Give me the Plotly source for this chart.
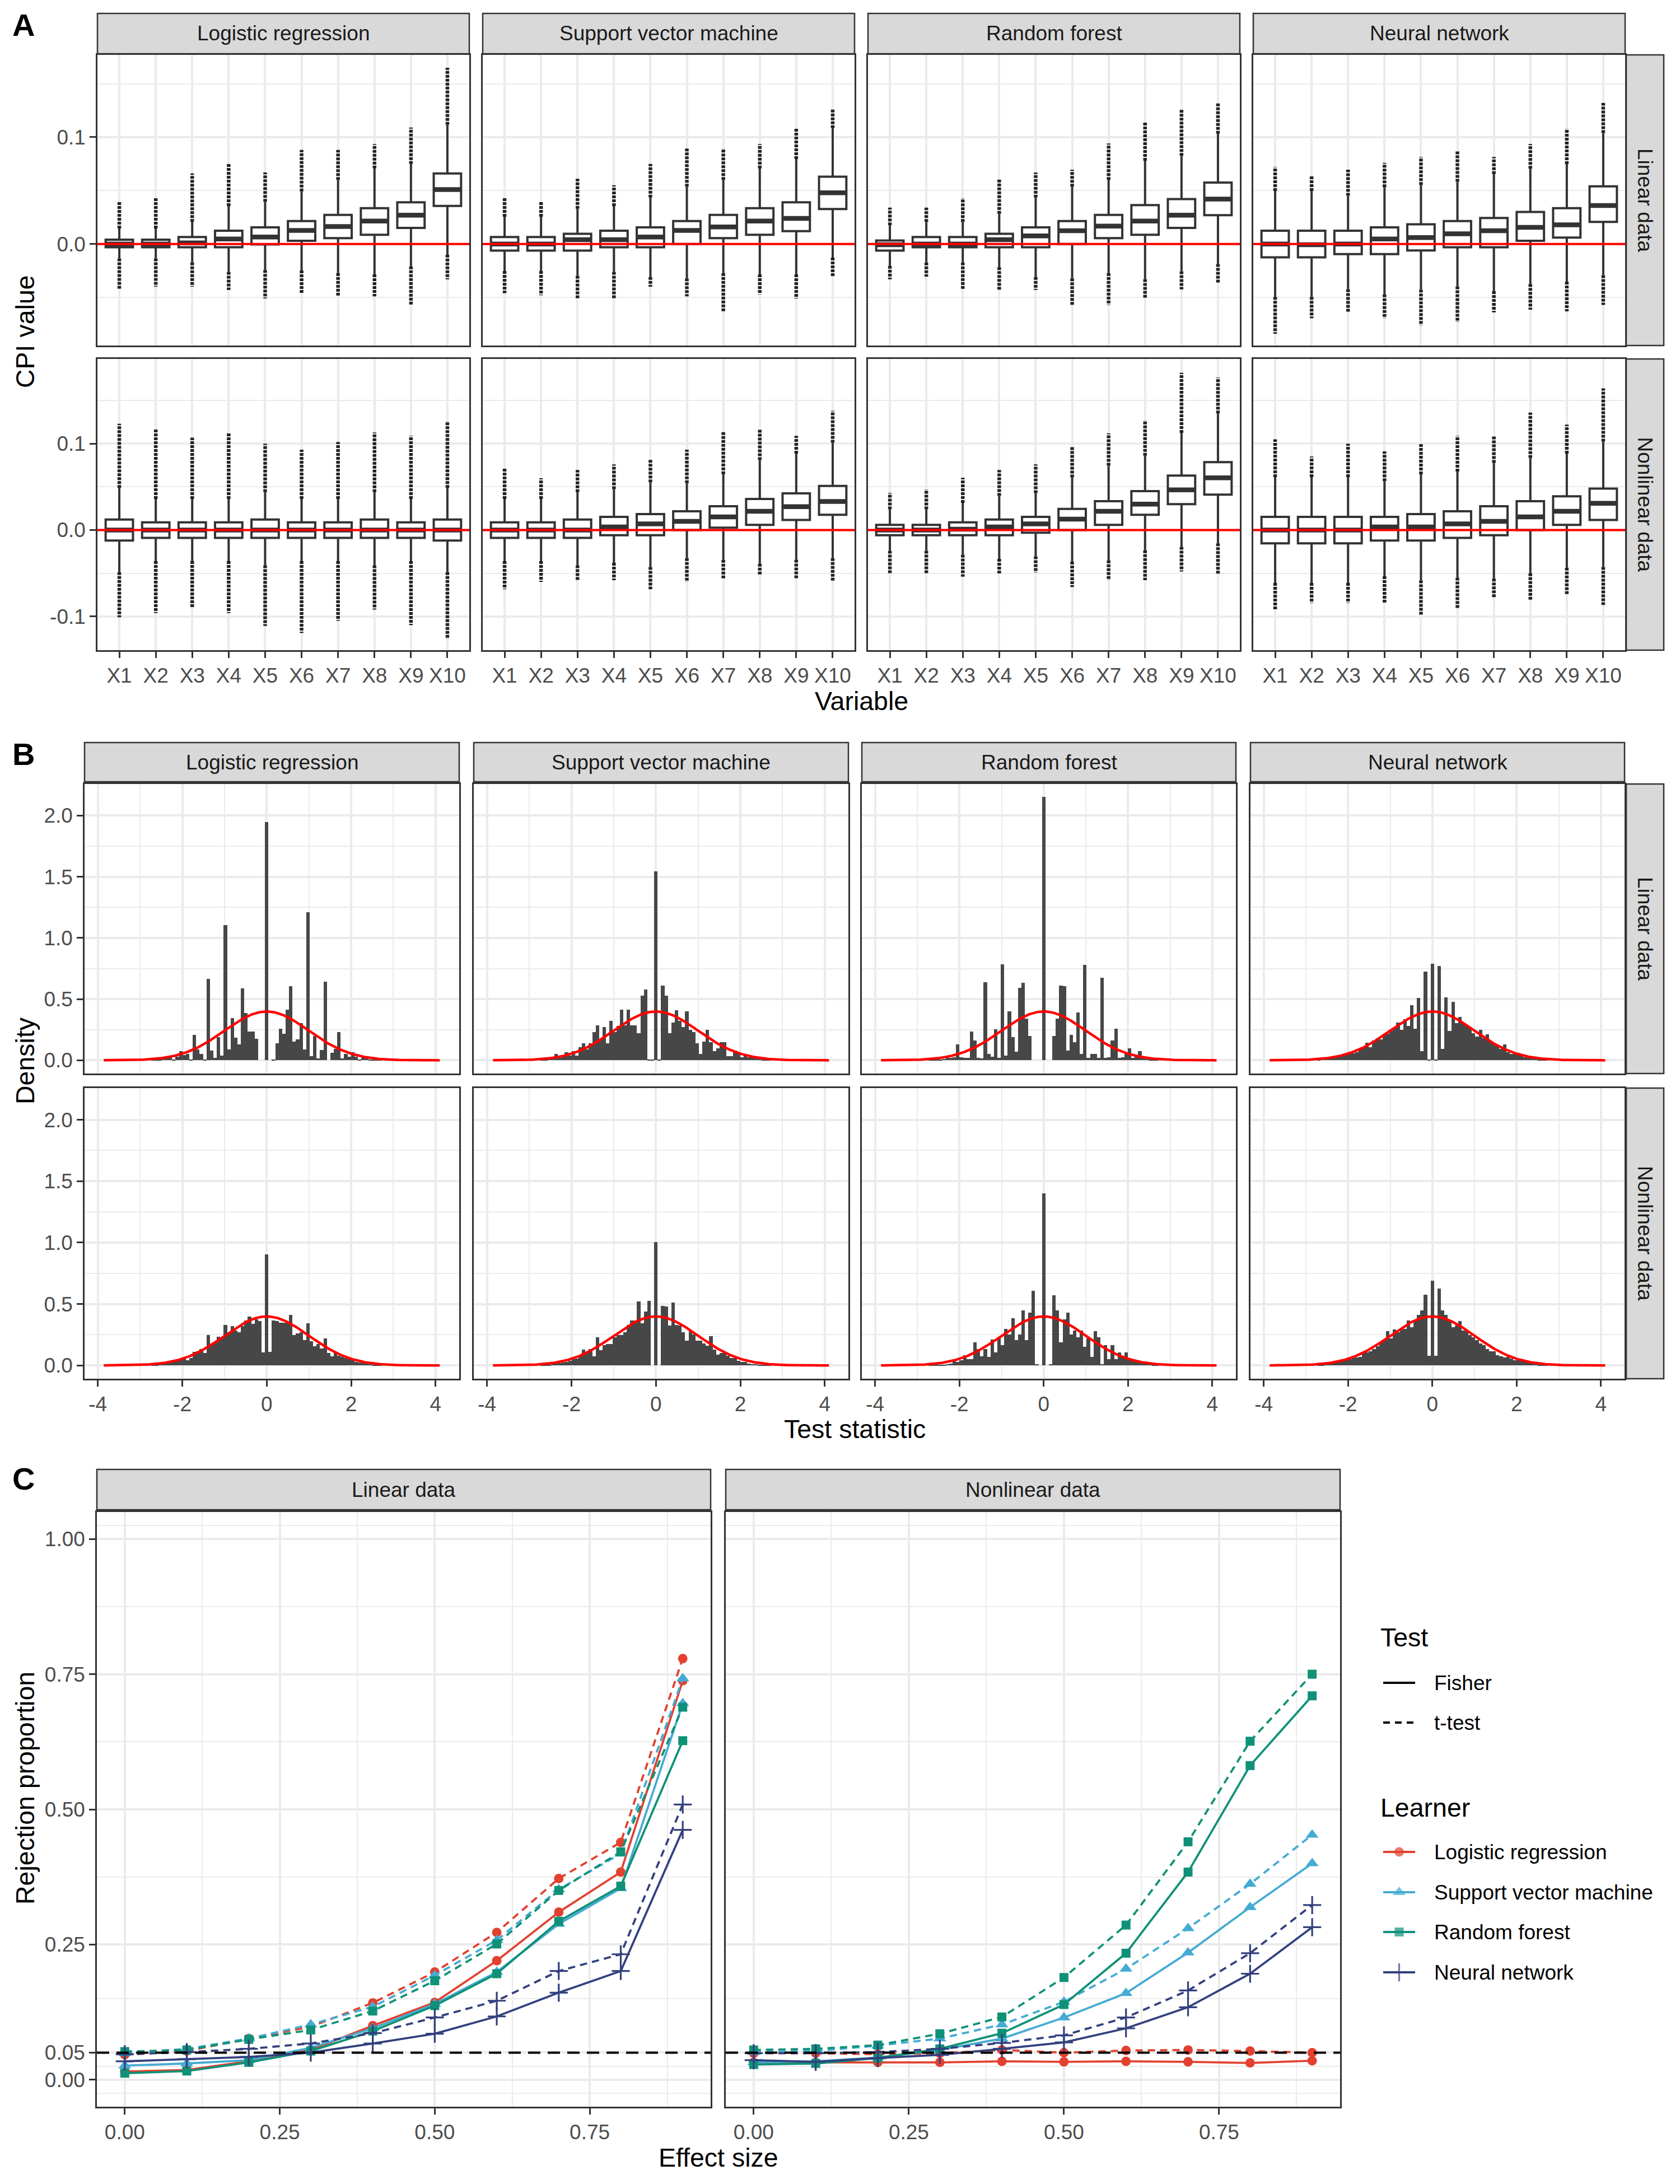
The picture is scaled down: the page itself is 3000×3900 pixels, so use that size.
import numpy as np
import plotly.graph_objects as go

W, H = 3000, 3900
BORDER = '#333333'
GRID = '#EBEBEB'
TICKC = '#4D4D4D'
FONT = 'Liberation Sans, Arial, sans-serif'
SMALL = 37
BIG = 46.5

# ------------------------------------------------------------------ DATA
variables = ['X1', 'X2', 'X3', 'X4', 'X5', 'X6', 'X7', 'X8', 'X9', 'X10']
learners = ['Logistic regression', 'Support vector machine', 'Random forest', 'Neural network']
datasets = ['Linear data', 'Nonlinear data']

# ---- Panel A: CPI box statistics (q1, median, q3, lowest and highest outlier)
lr_lin_q1 = [-0.003, -0.003, -0.003, -0.003, -0.0004, 0.003, 0.0055, 0.0087, 0.015, 0.0356]
lr_lin_med = [0.0, 0.0, 0.001, 0.0047, 0.0065, 0.0127, 0.0164, 0.0215, 0.027, 0.051]
lr_lin_q3 = [0.004, 0.004, 0.0065, 0.0124, 0.0156, 0.0215, 0.0273, 0.0335, 0.039, 0.066]
lr_lin_min = [-0.042, -0.040, -0.040, -0.043, -0.051, -0.046, -0.049, -0.049, -0.057, -0.033]
lr_lin_max = [0.040, 0.043, 0.066, 0.075, 0.067, 0.088, 0.088, 0.0935, 0.109, 0.165]

svm_lin_q1 = [-0.0062, -0.0062, -0.0062, -0.003, -0.003, 0.0, 0.0055, 0.0087, 0.012, 0.0327]
svm_lin_med = [0.0, 0.0, 0.004, 0.004, 0.0065, 0.0127, 0.016, 0.0215, 0.024, 0.048]
svm_lin_q3 = [0.0065, 0.0065, 0.0095, 0.0124, 0.0156, 0.0215, 0.0273, 0.0335, 0.039, 0.063]
svm_lin_min = [-0.046, -0.048, -0.051, -0.051, -0.040, -0.049, -0.063, -0.047, -0.051, -0.031]
svm_lin_max = [0.043, 0.040, 0.061, 0.055, 0.075, 0.0895, 0.0895, 0.0935, 0.108, 0.1265]

rf_lin_q1 = [-0.0062, -0.003, -0.003, -0.003, -0.003, 0.0, 0.0055, 0.0087, 0.015, 0.027]
rf_lin_med = [-0.0007, 0.0, 0.0, 0.004, 0.0076, 0.0124, 0.0167, 0.0215, 0.027, 0.042]
rf_lin_q3 = [0.0033, 0.0065, 0.0065, 0.0095, 0.0156, 0.0215, 0.0273, 0.0364, 0.042, 0.0575]
rf_lin_min = [-0.033, -0.0305, -0.042, -0.043, -0.043, -0.057, -0.057, -0.051, -0.0425, -0.036]
rf_lin_max = [0.034, 0.034, 0.043, 0.061, 0.067, 0.0695, 0.094, 0.114, 0.126, 0.132]

nn_lin_q1 = [-0.0124, -0.0124, -0.0095, -0.0095, -0.006, -0.003, -0.003, 0.003, 0.006, 0.0207]
nn_lin_med = [0.0, -0.0007, 0.0, 0.0047, 0.006, 0.0095, 0.0124, 0.0156, 0.018, 0.036]
nn_lin_q3 = [0.0124, 0.0124, 0.0124, 0.0156, 0.0185, 0.0215, 0.0244, 0.030, 0.0335, 0.054]
nn_lin_min = [-0.084, -0.0695, -0.064, -0.0695, -0.076, -0.073, -0.064, -0.0615, -0.063, -0.057]
nn_lin_max = [0.072, 0.0636, 0.0695, 0.076, 0.0815, 0.0876, 0.0815, 0.0935, 0.108, 0.132]

lr_nl_q1 = [-0.0122, -0.009, -0.009, -0.009, -0.009, -0.009, -0.009, -0.009, -0.009, -0.0122]
lr_nl_med = [0.0, 0.0, 0.0, 0.0, 0.0, 0.0, 0.0, 0.0, 0.0, 0.0]
lr_nl_q3 = [0.0122, 0.009, 0.009, 0.009, 0.0122, 0.009, 0.009, 0.0122, 0.009, 0.0122]
lr_nl_min = [-0.101, -0.096, -0.090, -0.096, -0.111, -0.119, -0.105, -0.092, -0.110, -0.126]
lr_nl_max = [0.123, 0.117, 0.107, 0.113, 0.100, 0.093, 0.102, 0.113, 0.109, 0.126]

svm_nl_q1 = [-0.009, -0.009, -0.009, -0.006, -0.006, 0.0, 0.0027, 0.006, 0.0117, 0.0176]
svm_nl_med = [0.0, 0.0, 0.0, 0.0036, 0.0072, 0.010, 0.0153, 0.0217, 0.027, 0.033]
svm_nl_q3 = [0.009, 0.009, 0.0122, 0.0153, 0.0185, 0.0217, 0.0275, 0.036, 0.0424, 0.051]
svm_nl_min = [-0.0686, -0.060, -0.058, -0.058, -0.0686, -0.060, -0.057, -0.0515, -0.057, -0.0596]
svm_nl_max = [0.072, 0.060, 0.0695, 0.076, 0.082, 0.093, 0.114, 0.117, 0.109, 0.138]

rf_nl_q1 = [-0.006, -0.006, -0.006, -0.006, -0.003, 0.0, 0.006, 0.0176, 0.030, 0.041]
rf_nl_med = [0.0, 0.0, 0.001, 0.0036, 0.0072, 0.0126, 0.0217, 0.030, 0.0465, 0.0605]
rf_nl_q3 = [0.006, 0.006, 0.009, 0.0122, 0.0153, 0.0244, 0.0334, 0.045, 0.063, 0.0786]
rf_nl_min = [-0.0506, -0.0506, -0.054, -0.0515, -0.049, -0.066, -0.058, -0.058, -0.048, -0.0515]
rf_nl_max = [0.043, 0.047, 0.0605, 0.0695, 0.076, 0.0966, 0.112, 0.127, 0.182, 0.1765]

nn_nl_q1 = [-0.0153, -0.0153, -0.0153, -0.0122, -0.0122, -0.009, -0.006, 0.0, 0.006, 0.0117]
nn_nl_med = [0.0, 0.0, 0.0, 0.0036, 0.0036, 0.0072, 0.010, 0.0153, 0.0217, 0.031]
nn_nl_q3 = [0.0153, 0.0153, 0.0153, 0.0153, 0.0185, 0.0217, 0.0275, 0.0334, 0.039, 0.048]
nn_nl_min = [-0.093, -0.0844, -0.0844, -0.084, -0.099, -0.090, -0.0786, -0.081, -0.0754, -0.0867]
nn_nl_max = [0.105, 0.085, 0.100, 0.091, 0.100, 0.109, 0.109, 0.136, 0.122, 0.164]

# ---- Panel B: histogram densities, bins k = -33..33, width 0.0815 centred on 0
bin_index = list(range(-33, 34))
bin_width = 0.0815
lr_lin_hist = [0.003, 0.005, 0.008, 0.01, 0.02, 0.023, 0.008, 0.03, 0.076, 0.041, 0.053, 0.008, 0.209,
               0.09, 0.05, 0.005, 0.667, 0.079, 0.018, 0.19, 0.038, 1.103, 0.09, 0.344, 0.186, 0.129,
               0.586, 0.386, 0.235, 0.235, 0.177, 0.0, 0.0,
               1.947,
               0.0, 0.003, 0.141, 0.258, 0.215, 0.414, 0.605, 0.152, 0.17, 0.303, 0.09, 1.209, 0.033,
               0.2, 0.015, 0.083, 0.641, 0.0, 0.06, 0.094, 0.232, 0.015, 0.05, 0.03, 0.064, 0.03,
               0.008, 0.02, 0.015, 0.008, 0.005, 0.003, 0.002]
svm_lin_hist = [0.003, 0.005, 0.01, 0.018, 0.05, 0.018, 0.03, 0.066, 0.04, 0.075, 0.04, 0.107, 0.14,
                0.09, 0.14, 0.23, 0.286, 0.17, 0.27, 0.14, 0.32, 0.23, 0.28, 0.415, 0.286, 0.415,
                0.286, 0.286, 0.22, 0.53, 0.578, 0.005, 0.005,
                1.544,
                0.005, 0.61, 0.53, 0.22, 0.31, 0.41, 0.32, 0.27, 0.40, 0.25, 0.23, 0.14, 0.05, 0.155,
                0.25, 0.15, 0.075, 0.1, 0.15, 0.15, 0.035, 0.035, 0.08, 0.066, 0.026, 0.05, 0.026,
                0.04, 0.018, 0.01, 0.008, 0.005, 0.003]
rf_lin_hist = [0.002, 0.003, 0.005, 0.008, 0.01, 0.018, 0.02, 0.026, 0.13, 0.026, 0.018, 0.02, 0.234,
               0.164, 0.02, 0.015, 0.638, 0.05, 0.03, 0.253, 0.02, 0.784, 0.04, 0.40, 0.19, 0.07,
               0.594, 0.635, 0.34, 0.20, 0.0, 0.0, 0.0,
               2.152,
               0.0, 0.0, 0.2, 0.34, 0.61, 0.605, 0.08, 0.21, 0.15, 0.39, 0.05, 0.78, 0.02, 0.05, 0.05,
               0.02, 0.675, 0.02, 0.026, 0.164, 0.258, 0.02, 0.026, 0.05, 0.1, 0.02, 0.035, 0.075,
               0.035, 0.01, 0.008, 0.005, 0.003]
nn_lin_hist = [0.005, 0.01, 0.012, 0.018, 0.023, 0.027, 0.042, 0.045, 0.042, 0.05, 0.058, 0.065, 0.088,
               0.11, 0.145, 0.108, 0.164, 0.179, 0.171, 0.217, 0.217, 0.24, 0.262, 0.31, 0.247, 0.338,
               0.282, 0.45, 0.258, 0.51, 0.076, 0.724, 0.005,
               0.788,
               0.005, 0.77, 0.095, 0.515, 0.24, 0.477, 0.303, 0.356, 0.3, 0.285, 0.27, 0.221, 0.194,
               0.247, 0.179, 0.212, 0.159, 0.141, 0.126, 0.095, 0.13, 0.065, 0.053, 0.058, 0.06,
               0.042, 0.023, 0.018, 0.015, 0.01, 0.008, 0.005, 0.003]
lr_nl_hist = [0.005, 0.008, 0.011, 0.024, 0.02, 0.024, 0.028, 0.036, 0.052, 0.063, 0.044, 0.06, 0.112,
              0.117, 0.133, 0.10, 0.246, 0.173, 0.185, 0.233, 0.22, 0.33, 0.262, 0.32, 0.286, 0.27,
              0.32, 0.367, 0.40, 0.34, 0.375, 0.36, 0.105,
              0.905,
              0.113, 0.367, 0.36, 0.35, 0.348, 0.35, 0.41, 0.246, 0.262, 0.27, 0.205, 0.343, 0.197,
              0.157, 0.176, 0.14, 0.22, 0.10, 0.076, 0.112, 0.08, 0.068, 0.06, 0.052, 0.044, 0.028,
              0.024, 0.02, 0.015, 0.011, 0.008, 0.005, 0.003]
svm_nl_hist = [0.003, 0.005, 0.008, 0.01, 0.015, 0.02, 0.024, 0.028, 0.04, 0.052, 0.055, 0.076, 0.128,
               0.1, 0.133, 0.076, 0.23, 0.125, 0.165, 0.173, 0.173, 0.23, 0.246, 0.246, 0.27, 0.33,
               0.367, 0.367, 0.52, 0.343, 0.44, 0.524, 0.0,
               1.006,
               0.0, 0.485, 0.48, 0.327, 0.513, 0.33, 0.327, 0.27, 0.2, 0.28, 0.25, 0.2, 0.2, 0.18,
               0.16, 0.24, 0.13, 0.09, 0.1, 0.11, 0.08, 0.06, 0.06, 0.04, 0.028, 0.028, 0.015, 0.012,
               0.01, 0.008, 0.005, 0.003, 0.002]
rf_nl_hist = [0.002, 0.003, 0.005, 0.006, 0.008, 0.011, 0.015, 0.036, 0.028, 0.044, 0.084, 0.052, 0.052,
              0.19, 0.133, 0.076, 0.133, 0.068, 0.21, 0.108, 0.23, 0.165, 0.3, 0.254, 0.383, 0.205,
              0.254, 0.45, 0.205, 0.43, 0.61, 0.01, 0.0,
              1.403,
              0.0, 0.01, 0.573, 0.45, 0.19, 0.375, 0.43, 0.25, 0.286, 0.23, 0.286, 0.15, 0.22, 0.068,
              0.278, 0.23, 0.01, 0.165, 0.052, 0.165, 0.052, 0.108, 0.068, 0.108, 0.06, 0.044, 0.036,
              0.028, 0.02, 0.015, 0.01, 0.006, 0.003]
nn_nl_hist = [0.003, 0.005, 0.011, 0.015, 0.02, 0.028, 0.036, 0.044, 0.044, 0.052, 0.06, 0.063, 0.068,
              0.1, 0.108, 0.117, 0.133, 0.157, 0.19, 0.205, 0.278, 0.22, 0.295, 0.27, 0.295, 0.30,
              0.367, 0.31, 0.367, 0.41, 0.45, 0.578, 0.08,
              0.688,
              0.08, 0.626, 0.45, 0.41, 0.367, 0.31, 0.327, 0.36, 0.286, 0.278, 0.246, 0.23, 0.205,
              0.18, 0.165, 0.133, 0.117, 0.117, 0.084, 0.076, 0.063, 0.068, 0.057, 0.044, 0.044,
              0.036, 0.036, 0.024, 0.015, 0.011, 0.008, 0.005, 0.003]

# ---- Panel C: rejection proportions
effect_size = [0.0, 0.1, 0.2, 0.3, 0.4, 0.5, 0.6, 0.7, 0.8, 0.9]
lin_lr_fisher = [0.015, 0.018, 0.034, 0.055, 0.100, 0.143, 0.220, 0.310, 0.384, 0.738]
lin_lr_t = [0.046, 0.053, 0.076, 0.098, 0.142, 0.199, 0.2725, 0.372, 0.439, 0.779]
lin_svm_fisher = [0.026, 0.030, 0.036, 0.059, 0.095, 0.140, 0.199, 0.288, 0.354, 0.696]
lin_svm_t = [0.049, 0.057, 0.076, 0.102, 0.135, 0.193, 0.258, 0.352, 0.418, 0.742]
lin_rf_fisher = [0.012, 0.016, 0.032, 0.053, 0.090, 0.137, 0.196, 0.293, 0.358, 0.627]
lin_rf_t = [0.052, 0.055, 0.0745, 0.092, 0.127, 0.183, 0.251, 0.350, 0.4215, 0.689]
lin_nn_fisher = [0.034, 0.038, 0.042, 0.050, 0.067, 0.085, 0.117, 0.161, 0.201, 0.462]
lin_nn_t = [0.047, 0.051, 0.057, 0.067, 0.086, 0.115, 0.146, 0.201, 0.232, 0.509]
nl_lr_fisher = [0.032, 0.032, 0.032, 0.032, 0.034, 0.033, 0.034, 0.033, 0.031, 0.035]
nl_lr_t = [0.049, 0.049, 0.047, 0.049, 0.055, 0.050, 0.054, 0.055, 0.053, 0.050]
nl_svm_fisher = [0.032, 0.034, 0.041, 0.055, 0.076, 0.115, 0.160, 0.235, 0.319, 0.400]
nl_svm_t = [0.051, 0.053, 0.063, 0.076, 0.102, 0.144, 0.205, 0.280, 0.362, 0.453]
nl_rf_fisher = [0.028, 0.030, 0.040, 0.057, 0.086, 0.139, 0.234, 0.384, 0.581, 0.710]
nl_rf_t = [0.055, 0.057, 0.064, 0.085, 0.116, 0.189, 0.286, 0.440, 0.626, 0.750]
nl_nn_fisher = [0.036, 0.033, 0.040, 0.046, 0.057, 0.069, 0.095, 0.134, 0.196, 0.282]
nl_nn_t = [0.049, 0.049, 0.051, 0.057, 0.068, 0.082, 0.115, 0.165, 0.234, 0.323]

tests = ['Fisher', 't-test']
learner_colors = ['#E2412F', '#44ABD2', '#0F9177', '#33407E']
learner_symbols = ['circle', 'triangle-up', 'square', 'cross-thin']

# ------------------------------------------------------------------ LAYOUT HELPERS
layout = {}
annotations = []
shapes = []
fig = go.Figure()


def axname(n, a):
    return f'{a}axis' if n == 1 else f'{a}axis{n}'


def ref(n, a):
    return a if n == 1 else f'{a}{n}'


def tickfont():
    return dict(family=FONT, size=SMALL, color=TICKC)


def make_axes(n, xd, yd, xr, yr, xt, xtt, yt, ytt, xm, ym, showx, showy):
    common = dict(showline=True, mirror=True, linecolor=BORDER, linewidth=2.5,
                  showgrid=True, gridcolor=GRID, gridwidth=3.5, zeroline=False,
                  tickmode='array', ticklen=11, tickwidth=2.5, tickcolor=BORDER,
                  tickfont=tickfont(), fixedrange=True)
    xa = dict(common, domain=[xd[0] / W, xd[1] / W], range=xr, anchor=ref(n, 'y'),
              tickvals=xt, ticktext=xtt, showticklabels=showx, ticks='outside' if showx else '')
    if xm:
        xa['minor'] = dict(tickmode='array', tickvals=xm, showgrid=True, gridcolor=GRID,
                           gridwidth=1.8, ticks='')
    ya = dict(common, domain=[1 - yd[1] / H, 1 - yd[0] / H], range=yr, anchor=ref(n, 'x'),
              tickvals=yt, ticktext=ytt, showticklabels=showy, ticks='outside' if showy else '')
    if ym:
        ya['minor'] = dict(tickmode='array', tickvals=ym, showgrid=True, gridcolor=GRID,
                           gridwidth=1.8, ticks='')
    layout[axname(n, 'x')] = xa
    layout[axname(n, 'y')] = ya


def strip(x0, y0, x1, y1, text, angle=0):
    shapes.append(dict(type='rect', xref='paper', yref='paper', x0=x0 / W, x1=x1 / W,
                       y0=1 - y1 / H, y1=1 - y0 / H, fillcolor='#D9D9D9',
                       line=dict(color=BORDER, width=2.5), layer='above'))
    annotations.append(dict(xref='paper', yref='paper', x=(x0 + x1) / 2 / W,
                            y=1 - (y0 + y1) / 2 / H, text=text, showarrow=False,
                            textangle=angle, xanchor='center', yanchor='middle',
                            font=dict(family=FONT, size=SMALL, color='#1A1A1A')))


def label(x, y, text, size=BIG, angle=0, anchor='center', bold=False, color='black'):
    annotations.append(dict(xref='paper', yref='paper', x=x / W, y=1 - y / H,
                            text=f'<b>{text}</b>' if bold else text, showarrow=False,
                            textangle=angle, xanchor=anchor, yanchor='middle',
                            font=dict(family=FONT, size=size, color=color)))


# ------------------------------------------------------------------ PANEL A
A_cols = [(174, 838), (862, 1526), (1550, 2214), (2238, 2902)]
A_rows = [(98, 617), (641, 1161)]
A_yrange = [[-0.095, 0.177], [-0.139, 0.198]]
A_yt = [[0.0, 0.1], [-0.1, 0.0, 0.1]]
A_ytt = [['0.0', '0.1'], ['-0.1', '0.0', '0.1']]
A_ym = [[-0.05, 0.05, 0.15], [-0.05, 0.05, 0.15]]

box_sets = [
    [(lr_lin_q1, lr_lin_med, lr_lin_q3, lr_lin_min, lr_lin_max),
     (svm_lin_q1, svm_lin_med, svm_lin_q3, svm_lin_min, svm_lin_max),
     (rf_lin_q1, rf_lin_med, rf_lin_q3, rf_lin_min, rf_lin_max),
     (nn_lin_q1, nn_lin_med, nn_lin_q3, nn_lin_min, nn_lin_max)],
    [(lr_nl_q1, lr_nl_med, lr_nl_q3, lr_nl_min, lr_nl_max),
     (svm_nl_q1, svm_nl_med, svm_nl_q3, svm_nl_min, svm_nl_max),
     (rf_nl_q1, rf_nl_med, rf_nl_q3, rf_nl_min, rf_nl_max),
     (nn_nl_q1, nn_nl_med, nn_nl_q3, nn_nl_min, nn_nl_max)],
]
xpos = list(range(1, len(variables) + 1))
BOXW = 0.75

for r in range(2):
    for c in range(4):
        n = r * 4 + c + 1
        make_axes(n, A_cols[c], A_rows[r], [0.4, 10.6], A_yrange[r], xpos, variables,
                  A_yt[r], A_ytt[r], None, A_ym[r], r == 1, c == 0)
        q1, med, q3, omin, omax = box_sets[r][c]
        lo, hi = [], []
        for a, b, mn, mx in zip(q1, q3, omin, omax):
            iqr = b - a
            lo.append(max(mn, a - 1.5 * iqr))
            hi.append(min(mx, b + 1.5 * iqr))
        # outliers as dotted columns
        ox, oy = [], []
        for i, p in enumerate(xpos):
            ox += [p, p, None, p, p, None]
            oy += [hi[i], omax[i], None, lo[i], omin[i], None]
        fig.add_trace(go.Scatter(x=ox, y=oy, mode='lines', hoverinfo='skip',
                                 line=dict(color='#222222', width=6.5, dash='5px,2px'),
                                 xaxis=ref(n, 'x'), yaxis=ref(n, 'y')))
        fig.add_trace(go.Box(x=xpos, q1=q1, median=med, q3=q3, lowerfence=lo, upperfence=hi,
                             width=BOXW, whiskerwidth=0, fillcolor='white',
                             line=dict(color=BORDER, width=4),
                             xaxis=ref(n, 'x'), yaxis=ref(n, 'y')))
        mx_, my_ = [], []
        for i, p in enumerate(xpos):
            mx_ += [p - BOXW / 2, p + BOXW / 2, None]
            my_ += [med[i], med[i], None]
        fig.add_trace(go.Scatter(x=mx_, y=my_, mode='lines', hoverinfo='skip',
                                 line=dict(color=BORDER, width=8.5),
                                 xaxis=ref(n, 'x'), yaxis=ref(n, 'y')))
        shapes.append(dict(type='line', xref=f'{ref(n, "x")} domain', x0=0, x1=1,
                           yref=ref(n, 'y'), y0=0, y1=0,
                           line=dict(color='#FF0000', width=4), layer='above'))

for c in range(4):
    strip(A_cols[c][0], 24, A_cols[c][1], 96, learners[c])
for r in range(2):
    strip(2904, A_rows[r][0], 2971, A_rows[r][1], datasets[r], angle=90)
label(1538, 1252, 'Variable')
label(45, 592, 'CPI value', angle=-90)
label(42, 45, 'A', size=56, bold=True)

# ------------------------------------------------------------------ PANEL B
B_cols = [(151, 820), (846, 1515), (1539, 2207), (2233, 2901)]
B_rows = [(1400, 1917), (1943, 2462)]
hists = [[lr_lin_hist, svm_lin_hist, rf_lin_hist, nn_lin_hist],
         [lr_nl_hist, svm_nl_hist, rf_nl_hist, nn_nl_hist]]
centers = [k * bin_width for k in bin_index]
xc = np.linspace(-3.86, 4.10, 400)
dens = np.exp(-xc ** 2 / 2) / np.sqrt(2 * np.pi)

for r in range(2):
    for c in range(4):
        n = 8 + r * 4 + c + 1
        make_axes(n, B_cols[c], B_rows[r], [-4.315, 4.56], [-0.108, 2.258],
                  [-4, -2, 0, 2, 4], ['-4', '-2', '0', '2', '4'],
                  [0.0, 0.5, 1.0, 1.5, 2.0], ['0.0', '0.5', '1.0', '1.5', '2.0'],
                  [-3, -1, 1, 3], [0.25, 0.75, 1.25, 1.75], r == 1, c == 0)
        fig.add_trace(go.Bar(x=centers, y=hists[r][c], width=bin_width,
                             marker=dict(color='#474747', line=dict(width=0)),
                             xaxis=ref(n, 'x'), yaxis=ref(n, 'y')))
        fig.add_trace(go.Scatter(x=xc, y=dens, mode='lines',
                                 line=dict(color='#FF0000', width=4.5),
                                 xaxis=ref(n, 'x'), yaxis=ref(n, 'y')))

for c in range(4):
    strip(B_cols[c][0], 1326, B_cols[c][1], 1396, learners[c])
for r in range(2):
    strip(2904, B_rows[r][0], 2971, B_rows[r][1], datasets[r], angle=90)
label(1526, 2552, 'Test statistic')
label(45, 1894, 'Density', angle=-90)
label(42, 1346, 'B', size=56, bold=True)

# ------------------------------------------------------------------ PANEL C
C_cols = [(173, 1269), (1296, 2393)]
C_row = (2700, 3762)
series = [
    [(lin_lr_fisher, lin_lr_t), (lin_svm_fisher, lin_svm_t), (lin_rf_fisher, lin_rf_t),
     (lin_nn_fisher, lin_nn_t)],
    [(nl_lr_fisher, nl_lr_t), (nl_svm_fisher, nl_svm_t), (nl_rf_fisher, nl_rf_t),
     (nl_nn_fisher, nl_nn_t)],
]
marker_sizes = [17, 20, 16, 23]


def marker_for(j, size=None):
    s = size if size is not None else marker_sizes[j]
    if learner_symbols[j] == 'cross-thin':
        return dict(symbol='cross-thin', size=s, line=dict(width=3.2, color=learner_colors[j]),
                    color=learner_colors[j])
    return dict(symbol=learner_symbols[j], size=s, color=learner_colors[j], line=dict(width=0))


for d in range(2):
    n = 17 + d
    make_axes(n, C_cols[d], C_row, [-0.045, 0.945], [-0.05, 1.05],
              [0.0, 0.25, 0.5, 0.75], ['0.00', '0.25', '0.50', '0.75'],
              [0.0, 0.05, 0.25, 0.5, 0.75, 1.0], ['0.00', '0.05', '0.25', '0.50', '0.75', '1.00'],
              [0.125, 0.375, 0.625, 0.875], [-0.025, 0.025, 0.15, 0.375, 0.625, 0.875, 1.025],
              True, d == 0)
    for j in range(4):
        for t in range(2):
            fig.add_trace(go.Scatter(
                x=effect_size, y=series[d][j][t], mode='lines+markers',
                line=dict(color=learner_colors[j], width=3.8,
                          dash='solid' if t == 0 else '13px,9px'),
                marker=marker_for(j), xaxis=ref(n, 'x'), yaxis=ref(n, 'y')))
    shapes.append(dict(type='line', xref=f'{ref(n, "x")} domain', x0=0, x1=1,
                       yref=ref(n, 'y'), y0=0.05, y1=0.05,
                       line=dict(color='black', width=4, dash='22px,13px'), layer='above'))
    strip(C_cols[d][0], 2624, C_cols[d][1], 2696, datasets[d])
label(1283, 3853, 'Effect size')
label(45, 3193, 'Rejection proportion', angle=-90)
label(42, 2640, 'C', size=56, bold=True)

# ------------------------------------------------------------------ LEGEND (manual)
LX0, LX1 = 2440, 2620
LY0, LY1 = 2880, 3570
layout['xaxis19'] = dict(domain=[LX0 / W, LX1 / W], range=[LX0, LX1], visible=False,
                         anchor='y19', fixedrange=True)
layout['yaxis19'] = dict(domain=[1 - LY1 / H, 1 - LY0 / H], range=[LY1, LY0], visible=False,
                         anchor='x19', fixedrange=True)
key_x = [2470, 2498.5, 2527]
test_key_y = [3005, 3076]
learner_key_y = [3307, 3379, 3450, 3522]
for t in range(2):
    fig.add_trace(go.Scatter(x=[key_x[0], key_x[2]], y=[test_key_y[t]] * 2, mode='lines',
                             line=dict(color='black', width=3.8,
                                       dash='solid' if t == 0 else '12px,9px'),
                             xaxis='x19', yaxis='y19', hoverinfo='skip'))
    label(2559, test_key_y[t], tests[t], size=SMALL, anchor='left')
for j in range(4):
    m = marker_for(j)
    m['size'] = [0, marker_sizes[j], 0]
    fig.add_trace(go.Scatter(x=key_x, y=[learner_key_y[j]] * 3, mode='lines+markers',
                             line=dict(color=learner_colors[j], width=3.8), marker=m,
                             xaxis='x19', yaxis='y19', hoverinfo='skip'))
    label(2559, learner_key_y[j], learners[j], size=SMALL, anchor='left')
label(2463, 2924, 'Test', anchor='left')
label(2463, 3228, 'Learner', anchor='left')

# ------------------------------------------------------------------ FINAL
layout.update(dict(width=W, height=H, autosize=False, margin=dict(l=0, r=0, t=0, b=0),
                   paper_bgcolor='white', plot_bgcolor='white', showlegend=False,
                   font=dict(family=FONT, size=SMALL, color=TICKC),
                   annotations=annotations, shapes=shapes, bargap=0))
fig.update_layout(**layout)
fig.write_html('out.html')
